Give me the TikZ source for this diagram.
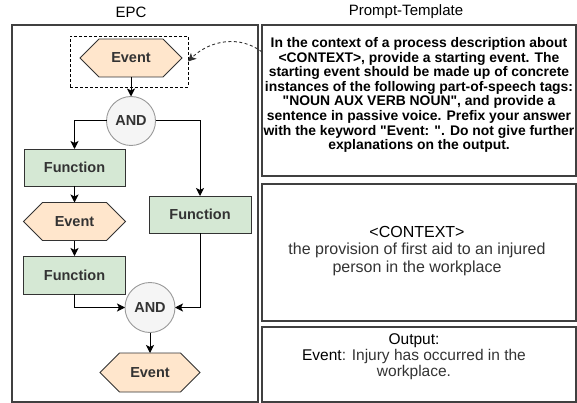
\documentclass[tikz,border=0pt]{standalone}
\usepackage{fontspec}
\setmainfont{Liberation Sans}[Ligatures=TeXOff]
\usetikzlibrary{shapes.symbols,arrows.meta}

\definecolor{evfill}{HTML}{FFE6CC}
\definecolor{fnfill}{HTML}{D5E8D4}
\definecolor{gatefill}{HTML}{F5F5F5}
\definecolor{ink}{HTML}{333333}

\begin{document}
\begin{tikzpicture}[x=1pt,y=-1pt,
  every node/.style={inner sep=0pt, outer sep=0pt},
  frame/.style={draw=black!75, line width=1.3pt},
  shapefont/.style={font=\fontsize{14.5}{17}\selectfont\bfseries, text=ink},
  evt/.style={signal, signal to=east and west, signal pointer angle=90,
    fill=evfill, draw=ink, line width=0.9pt,
    minimum width=102pt, minimum height=38pt, shapefont},
  fn/.style={rectangle, fill=fnfill, draw=ink, line width=0.9pt,
    minimum width=101pt, minimum height=37pt, shapefont},
  gate/.style={circle, fill=gatefill, draw=black!40, line width=0.9pt,
    minimum size=49pt, shapefont},
  flow/.style={draw=black, line width=1pt,
    -{Stealth[length=8pt,width=8pt,inset=2pt]}},
  title/.style={font=\fontsize{15}{17}\selectfont, text=black},
]
\useasboundingbox (0,0) rectangle (577,403);

% titles
\node[title] (ttlepc) at (131,12) {EPC};
\node[title] (ttltpl) at (406,12) {Prompt-Template};

% frames
\node[frame, minimum width=246pt, minimum height=377pt] (epc) at (135,213.5) {};
\node[frame, minimum width=314pt, minimum height=151pt] (tpl) at (419,100.5) {};
\node[frame, minimum width=314pt, minimum height=137pt] (ctx) at (419,252.5) {};
\node[frame, minimum width=314pt, minimum height=75pt] (out) at (419,364.5) {};

% EPC model
\node[draw=black, dashed, dash pattern=on 3pt off 2pt, line width=0.8pt,
      minimum width=118pt, minimum height=51pt] (sel) at (129,61.5) {};
\node[evt] (ev1) at (131,58) {Event};
\node[gate] (and1) at (131,121) {AND};
\node[fn] (fn1) at (74.5,167.5) {Function};
\node[fn, minimum width=102pt] (fn2) at (200,214.5) {Function};
\node[evt] (ev2) at (74.5,221.5) {Event};
\node[fn, minimum width=102pt, minimum height=38pt] (fn3) at (74.5,275) {Function};
\node[gate, minimum size=50pt] (and2) at (150,307.5) {AND};
\node[evt, minimum width=100pt, minimum height=39pt] (ev3) at (150,372.5) {Event};

\draw[flow] (ev1.south) -- (and1.north);
\draw[flow] (and1.west) -| (fn1.north);
\draw[flow] (and1.east) -| (fn2.north);
\draw[flow] (fn1.south) -- (ev2.north);
\draw[flow] (ev2.south) -- (fn3.north);
\draw[flow] (fn3.south) |- (and2.west);
\draw[flow] (fn2.south) |- (and2.east);
\draw[flow] (and2.south) -- (ev3.north);

% link from the prompt to the starting event
\draw[draw=black!80, line width=0.9pt, dashed, dash pattern=on 3pt off 2.5pt,
      -{Stealth[length=8pt,width=8pt,inset=2pt]}]
  ([yshift=-27pt]tpl.north west) .. controls +(-22,-17) and +(22,-21.5) .. (sel.east);

% prompt texts
\node[align=center, font=\fontsize{13.9}{14.6}\selectfont\bfseries, text=black] (tpltext) at (419,95)
  {In the context of a process description about\\
   <CONTEXT>, provide a starting event. The\\
   starting event should be made up of concrete\\
   instances of the following part-of-speech tags:\\
   "NOUN AUX VERB NOUN", and provide a\\
   sentence in passive voice. Prefix your answer\\
   with the keyword "Event: ". Do not give further\\
   explanations on the output.};

\node[align=center, font=\fontsize{16}{17.5}\selectfont, text=ink] (ctxtext) at (417,251)
  {\textcolor{black}{<CONTEXT>}\\
   the provision of first aid to an injured\\
   person in the workplace};

\node[align=center, font=\fontsize{15.5}{16}\selectfont, text=ink] (outtext) at (414,357)
  {\textcolor{black}{Output:}\\
   \textcolor{black}{Event}: Injury has occurred in the\\
   workplace.};
\end{tikzpicture}
\end{document}
